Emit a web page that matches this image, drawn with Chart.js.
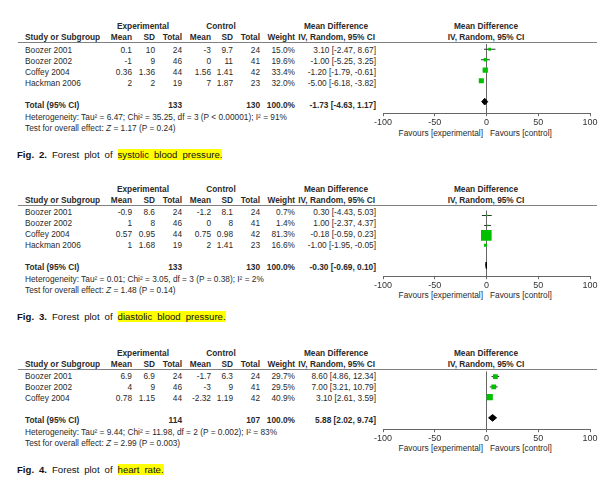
<!DOCTYPE html>
<html>
<head>
<meta charset="utf-8">
<script src="https://cdn.jsdelivr.net/npm/chart.js@4.4.1/dist/chart.umd.min.js"></script>
<style>
body { margin: 0; background: #fff; }
#page { position: relative; width: 610px; height: 491px; overflow: hidden;
        font-family: "Liberation Sans", Arial, sans-serif; color: #2a2a2a; }
.t { position: absolute; font-size: 8.3px; line-height: 11px; white-space: nowrap; }
.b { font-weight: bold; font-size: 8.3px; }
.rule { position: absolute; height: 1px; background: #808080; }
.cap { position: absolute; font-size: 9.6px; line-height: 13px; white-space: nowrap; word-spacing: 2.3px; color: #111; }
.hl { background: #ffff00; }
canvas { position: absolute; }
</style>
</head>
<body>
<div id="page"></div>
<script>
// ---- data ----
const xTicks = [-100, -50, 0, 50, 100];

// Fig. 2 systolic blood pressure
const sbpStudy   = ['Boozer 2001', 'Boozer 2002', 'Coffey 2004', 'Hackman 2006'];
const sbpExpMean = [0.1, -1, 0.36, 2];
const sbpExpSD   = [10, 9, 1.36, 2];
const sbpExpN    = [24, 46, 44, 19];
const sbpCtlMean = [-3, 0, 1.56, 7];
const sbpCtlSD   = [9.7, 11, 1.41, 1.87];
const sbpCtlN    = [24, 41, 42, 23];
const sbpWeight  = [15.0, 19.6, 33.4, 32.0];
const sbpMD      = [3.10, -1.00, -1.20, -5.00];
const sbpLo      = [-2.47, -5.25, -1.79, -6.18];
const sbpHi      = [8.67, 3.25, -0.61, -3.82];
const sbpTotal   = [-1.73, -4.63, 1.17];
const sbpTotalN  = [133, 130];
const sbpHet     = 'Heterogeneity: Tau² = 6.47; Chi² = 35.25, df = 3 (P &lt; 0.00001); I² = 91%';
const sbpTest    = 'Test for overall effect: <i>Z</i> = 1.17 (P = 0.24)';

// Fig. 3 diastolic blood pressure
const dbpStudy   = ['Boozer 2001', 'Boozer 2002', 'Coffey 2004', 'Hackman 2006'];
const dbpExpMean = [-0.9, 1, 0.57, 1];
const dbpExpSD   = [8.6, 8, 0.95, 1.68];
const dbpExpN    = [24, 46, 44, 19];
const dbpCtlMean = [-1.2, 0, 0.75, 2];
const dbpCtlSD   = [8.1, 8, 0.98, 1.41];
const dbpCtlN    = [24, 41, 42, 23];
const dbpWeight  = [0.7, 1.4, 81.3, 16.6];
const dbpMD      = [0.30, 1.00, -0.18, -1.00];
const dbpLo      = [-4.43, -2.37, -0.59, -1.95];
const dbpHi      = [5.03, 4.37, 0.23, -0.05];
const dbpTotal   = [-0.30, -0.69, 0.10];
const dbpTotalN  = [133, 130];
const dbpHet     = 'Heterogeneity: Tau² = 0.01; Chi² = 3.05, df = 3 (P = 0.38); I² = 2%';
const dbpTest    = 'Test for overall effect: <i>Z</i> = 1.48 (P = 0.14)';

// Fig. 4 heart rate
const hrStudy   = ['Boozer 2001', 'Boozer 2002', 'Coffey 2004'];
const hrExpMean = [6.9, 4, 0.78];
const hrExpSD   = [6.9, 9, 1.15];
const hrExpN    = [24, 46, 44];
const hrCtlMean = [-1.7, -3, -2.32];
const hrCtlSD   = [6.3, 9, 1.19];
const hrCtlN    = [24, 41, 42];
const hrWeight  = [29.7, 29.5, 40.9];
const hrMD      = [8.60, 7.00, 3.10];
const hrLo      = [4.86, 3.21, 2.61];
const hrHi      = [12.34, 10.79, 3.59];
const hrTotal   = [5.88, 2.02, 9.74];
const hrTotalN  = [114, 107];
const hrHet     = 'Heterogeneity: Tau² = 9.44; Chi² = 11.98, df = 2 (P = 0.002); I² = 83%';
const hrTest    = 'Test for overall effect: <i>Z</i> = 2.99 (P = 0.003)';

const panels = [
  { fig: 'Fig. 2.', what: 'systolic blood pressure.', top: 0,
    study: sbpStudy, em: sbpExpMean, es: sbpExpSD, en: sbpExpN, cm: sbpCtlMean, cs: sbpCtlSD, cn: sbpCtlN,
    w: sbpWeight, md: sbpMD, lo: sbpLo, hi: sbpHi, tot: sbpTotal, totN: sbpTotalN, het: sbpHet, test: sbpTest },
  { fig: 'Fig. 3.', what: 'diastolic blood pressure.', top: 162.5,
    study: dbpStudy, em: dbpExpMean, es: dbpExpSD, en: dbpExpN, cm: dbpCtlMean, cs: dbpCtlSD, cn: dbpCtlN,
    w: dbpWeight, md: dbpMD, lo: dbpLo, hi: dbpHi, tot: dbpTotal, totN: dbpTotalN, het: dbpHet, test: dbpTest },
  { fig: 'Fig. 4.', what: 'heart rate.', top: 326.5,
    study: hrStudy, em: hrExpMean, es: hrExpSD, en: hrExpN, cm: hrCtlMean, cs: hrCtlSD, cn: hrCtlN,
    w: hrWeight, md: hrMD, lo: hrLo, hi: hrHi, tot: hrTotal, totN: hrTotalN, het: hrHet, test: hrTest }
];

const page = document.getElementById('page');
const FONT = '"Liberation Sans", Arial, sans-serif';

function txt(html, x, yc, align, cls) {
  const d = document.createElement('div');
  d.className = 't' + (cls ? ' ' + cls : '');
  d.innerHTML = html;
  d.style.top = (yc - 5.5) + 'px';
  if (align === 'right') { d.style.left = (x - 300) + 'px'; d.style.width = '300px'; d.style.textAlign = 'right'; }
  else if (align === 'center') { d.style.left = (x - 150) + 'px'; d.style.width = '300px'; d.style.textAlign = 'center'; }
  else d.style.left = x + 'px';
  page.appendChild(d);
}

function ci(m, lo, hi) {
  return m.toFixed(2) + ' [' + lo.toFixed(2) + ', ' + hi.toFixed(2) + ']';
}

// square side grows with study weight
function boxSide(w) { return Math.max(1.5, 0.33 * Math.pow(w, 0.79)); }

function drawTable(p) {
  const T = p.top, n = p.study.length, sh = (4 - n) * 11;
  txt('Experimental', 143, T + 26.7, 'center', 'b');
  txt('Control', 221, T + 26.7, 'center', 'b');
  txt('Mean Difference', 336, T + 26.7, 'center', 'b');
  txt('Mean Difference', 486, T + 26.7, 'center', 'b');
  txt('Study or Subgroup', 25, T + 37.7, 'left', 'b');
  txt('Mean', 132, T + 37.7, 'right', 'b');
  txt('SD', 155, T + 37.7, 'right', 'b');
  txt('Total', 182, T + 37.7, 'right', 'b');
  txt('Mean', 211, T + 37.7, 'right', 'b');
  txt('SD', 233, T + 37.7, 'right', 'b');
  txt('Total', 260, T + 37.7, 'right', 'b');
  txt('Weight', 295, T + 37.7, 'right', 'b');
  txt('IV, Random, 95% CI', 375, T + 37.7, 'right', 'b');
  txt('IV, Random, 95% CI', 486, T + 37.7, 'center', 'b');

  const r = document.createElement('div');
  r.className = 'rule';
  r.style.left = '18px'; r.style.width = '579px'; r.style.top = (T + 42) + 'px';
  page.appendChild(r);

  p.study.forEach((s, i) => {
    const y = T + 50 + 11 * i;
    txt(s, 25, y, 'left');
    txt(String(p.em[i]), 132, y, 'right');
    txt(String(p.es[i]), 155, y, 'right');
    txt(String(p.en[i]), 182, y, 'right');
    txt(String(p.cm[i]), 211, y, 'right');
    txt(String(p.cs[i]), 233, y, 'right');
    txt(String(p.cn[i]), 260, y, 'right');
    txt(p.w[i].toFixed(1) + '%', 295, y, 'right');
    txt(ci(p.md[i], p.lo[i], p.hi[i]), 376, y, 'right');
  });

  const yt = T + 50 + 11 * (n + 1);
  txt('Total (95% CI)', 25, yt, 'left', 'b');
  txt(String(p.totN[0]), 182, yt, 'right', 'b');
  txt(String(p.totN[1]), 260, yt, 'right', 'b');
  txt('100.0%', 295, yt, 'right', 'b');
  txt(ci(p.tot[0], p.tot[1], p.tot[2]), 376, yt, 'right', 'b');
  txt(p.het, 25, T + 117 - sh, 'left');
  txt(p.test, 25, T + 128 - sh, 'left');

  txt('Favours [experimental]', 483, T + 133 - sh, 'right');
  txt('Favours [control]', 490, T + 133 - sh, 'left');

  const c = document.createElement('div');
  c.className = 'cap';
  c.innerHTML = '<b>' + p.fig + '</b> Forest plot of <span class="hl">' + p.what + '</span>';
  c.style.left = '17px';
  c.style.top = (T + 154 - sh - 6.5) + 'px';
  page.appendChild(c);
}

function drawPlot(p) {
  const n = p.study.length;
  const yMin = 0.5, yMax = n + 3.1;
  const padTop = 2, axisH = 14.8;
  const W = 237;
  const H = Math.round(padTop + (yMax - yMin) * 11 + axisH);
  const cv = document.createElement('canvas');
  cv.width = W; cv.height = H;
  cv.style.width = W + 'px'; cv.style.height = H + 'px';
  cv.style.left = '368px';
  cv.style.top = (p.top + 42 - padTop) + 'px';
  page.appendChild(cv);

  const yt = n + 2;
  const datasets = [
    {
      data: p.md.map((m, i) => ({ x: m, y: i + 1 })),
      pointStyle: 'rect',
      pointRadius: p.w.map(w => boxSide(w) / Math.SQRT2),
      backgroundColor: '#00c000',
      borderWidth: 0
    },
    {
      data: [
        { x: p.tot[1], y: yt }, { x: p.tot[0], y: yt - 0.32 },
        { x: p.tot[2], y: yt }, { x: p.tot[0], y: yt + 0.32 },
        { x: p.tot[1], y: yt }
      ],
      showLine: true,
      fill: 'shape',
      backgroundColor: '#000',
      borderColor: '#000',
      borderWidth: 1,
      pointRadius: 0
    }
  ].concat(p.lo.map((lo, i) => ({
    data: [{ x: lo, y: i + 1 }, { x: p.hi[i], y: i + 1 }],
    showLine: true,
    borderColor: '#333',
    borderWidth: 1,
    pointRadius: 0
  })));

  new Chart(cv, {
    type: 'scatter',
    data: { datasets: datasets },
    options: {
      responsive: false,
      animation: false,
      events: [],
      layout: { padding: { left: 15, right: 15, top: padTop, bottom: 0 } },
      plugins: { legend: { display: false }, tooltip: { enabled: false } },
      scales: {
        x: {
          type: 'linear', min: -100, max: 100,
          afterBuildTicks: s => { s.ticks = xTicks.map(v => ({ value: v })); },
          ticks: { font: { size: 9, family: FONT }, color: '#333', padding: 1, maxRotation: 0, autoSkip: false },
          grid: {
            color: c => (c.tick && c.tick.value === 0) ? '#666' : 'rgba(0,0,0,0)',
            tickColor: '#666', tickLength: 3
          },
          border: { display: true, color: '#666' }
        },
        y: { type: 'linear', display: false, min: yMin, max: yMax, reverse: true }
      }
    }
  });
}

panels.forEach(p => { drawTable(p); drawPlot(p); });
</script>
</body>
</html>
